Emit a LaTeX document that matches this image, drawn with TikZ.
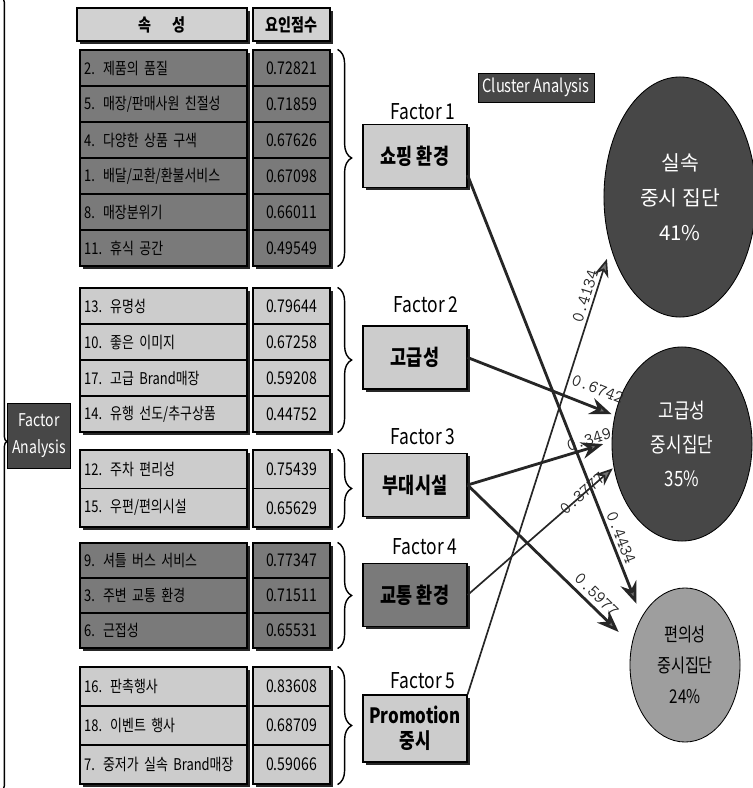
\documentclass[tikz,border=0pt]{standalone}
\usepackage{fontspec}
\newfontfamily\kr{Noto Sans CJK KR}
\newfontfamily\krn[FakeStretch=0.8]{Noto Sans CJK KR}
\usepackage{tikz}
\usetikzlibrary{shapes.geometric}
\usetikzlibrary{arrows.meta}
\usetikzlibrary{shadows}
\usetikzlibrary{decorations.pathreplacing}
\tikzset{shd/.style={drop shadow={shadow xshift=2pt,shadow yshift=-2pt,fill=black!85,opacity=1}}}
\tikzset{dk/.style={fill=black!52}}
\tikzset{lt/.style={fill=black!20}}
\tikzset{hcell/.style={draw,line width=0.8pt,fill=black!18,minimum height=0.825cm,font=\krn\bfseries\fontsize{12.5}{13}\selectfont,shd}}
\tikzset{acell/.style={draw,line width=0.8pt,text width=3.965cm,inner xsep=0.105cm,minimum height=0.9cm,align=left,font=\krn\fontsize{11.5}{12}\selectfont,shd}}
\tikzset{scell/.style={draw,line width=0.8pt,minimum width=1.925cm,minimum height=0.9cm,font=\krn\fontsize{12.5}{13}\selectfont,shd}}
\tikzset{fbox/.style={draw,line width=0.8pt,minimum width=2.6cm,minimum height=1.575cm,align=center,font=\krn\bfseries\fontsize{15.5}{17}\selectfont,shd}}
\tikzset{flabel/.style={font=\krn\fontsize{15.5}{17}\selectfont}}
\tikzset{anbox/.style={draw,fill=black!72,text=white,align=center,font=\krn\fontsize{12.5}{19}\selectfont}}
\tikzset{clus/.style={ellipse,draw,line width=0.6pt,inner sep=0pt,align=center}}
\tikzset{grpbrace/.style={decorate,decoration={brace,amplitude=0.35cm},line width=1pt}}
\tikzset{numlab/.style={font=\ttfamily\fontsize{12.5}{13}\selectfont,sloped,inner sep=0pt}}
\tikzset{thickarrow/.style={line width=2pt,black!85,-{Stealth[length=5.5mm,width=4.2mm,fill=black!55]}}}
\tikzset{thinarrow/.style={line width=1.2pt,black!85,-{Stealth[length=4.5mm,width=3.6mm,fill=black!55]}}}

\begin{document}
\begin{tikzpicture}[x=0.025cm,y=-0.025cm]
\useasboundingbox (0,0) rectangle (752,788);

% table head
\node[hcell,minimum width=4.25cm] (h1) at (162,24.5) {속\hspace{1.2em}성};
\node[hcell,minimum width=1.925cm] (h2) at (291.5,24.5) {요인점수};

% factor 1 rows
\node[acell,dk] (a2) at (163.5,68) {2. 제품의 품질};
\node[scell,dk] (s2) at (291.5,68) {0.72821};
\node[acell,dk] (a5) at (163.5,104) {5. 매장/판매사원 친절성};
\node[scell,dk] (s5) at (291.5,104) {0.71859};
\node[acell,dk] (a4) at (163.5,140) {4. 다양한 상품 구색};
\node[scell,dk] (s4) at (291.5,140) {0.67626};
\node[acell,dk] (a1) at (163.5,176) {1. 배달/교환/환불서비스};
\node[scell,dk] (s1) at (291.5,176) {0.67098};
\node[acell,dk] (a8) at (163.5,212) {8. 매장분위기};
\node[scell,dk] (s8) at (291.5,212) {0.66011};
\node[acell,dk] (a11) at (163.5,248) {11. 휴식 공간};
\node[scell,dk] (s11) at (291.5,248) {0.49549};

% factor 2 rows
\node[acell,lt] (a13) at (163.5,306) {13. 유명성};
\node[scell,lt] (s13) at (291.5,306) {0.79644};
\node[acell,lt] (a10) at (163.5,342) {10. 좋은 이미지};
\node[scell,lt] (s10) at (291.5,342) {0.67258};
\node[acell,lt] (a17) at (163.5,378) {17. 고급 Brand매장};
\node[scell,lt] (s17) at (291.5,378) {0.59208};
\node[acell,lt] (a14) at (163.5,414) {14. 유행 선도/추구상품};
\node[scell,lt] (s14) at (291.5,414) {0.44752};

% factor 3 rows
\node[acell,lt,minimum height=0.9625cm] (a12) at (163.5,469.25) {12. 주차 편리성};
\node[scell,lt,minimum height=0.9625cm] (s12) at (291.5,469.25) {0.75439};
\node[acell,lt,minimum height=0.9625cm] (a15) at (163.5,507.75) {15. 우편/편의시설};
\node[scell,lt,minimum height=0.9625cm] (s15) at (291.5,507.75) {0.65629};

% factor 4 rows
\node[acell,dk,minimum height=0.875cm] (a9) at (163.5,560.5) {9. 셔틀 버스 서비스};
\node[scell,dk,minimum height=0.875cm] (s9) at (291.5,560.5) {0.77347};
\node[acell,dk,minimum height=0.875cm] (a3) at (163.5,595.5) {3. 주변 교통 환경};
\node[scell,dk,minimum height=0.875cm] (s3) at (291.5,595.5) {0.71511};
\node[acell,dk,minimum height=0.875cm] (a6) at (163.5,630.5) {6. 근접성};
\node[scell,dk,minimum height=0.875cm] (s6) at (291.5,630.5) {0.65531};

% factor 5 rows
\node[acell,lt,minimum height=0.975cm] (a16) at (163.5,686.5) {16. 판촉행사};
\node[scell,lt,minimum height=0.975cm] (s16) at (291.5,686.5) {0.83608};
\node[acell,lt,minimum height=0.975cm] (a18) at (163.5,725.5) {18. 이벤트 행사};
\node[scell,lt,minimum height=0.975cm] (s18) at (291.5,725.5) {0.68709};
\node[acell,lt,minimum height=0.975cm] (a7) at (163.5,764.5) {7. 중저가 실속 Brand매장};
\node[scell,lt,minimum height=0.975cm] (s7) at (291.5,764.5) {0.59066};

\draw[grpbrace] ([xshift=5pt]s2.north east) -- ([xshift=5pt]s11.south east);
\draw[grpbrace] ([xshift=5pt]s13.north east) -- ([xshift=5pt]s14.south east);
\draw[grpbrace] ([xshift=5pt]s12.north east) -- ([xshift=5pt]s15.south east);
\draw[grpbrace] ([xshift=5pt]s9.north east) -- ([xshift=5pt]s6.south east);
\draw[grpbrace] ([xshift=5pt]s16.north east) -- ([xshift=5pt]s7.south east);

% factors
\node[flabel] (fl1) at (423,112) {Factor 1};
\node[fbox,lt] (f1) at (415,156) {쇼핑 환경};
\node[flabel] (fl2) at (426,305) {Factor 2};
\node[fbox,lt] (f2) at (415,357.5) {고급성};
\node[flabel] (fl3) at (423,437) {Factor 3};
\node[fbox,lt] (f3) at (415,485) {부대시설};
\node[flabel] (fl4) at (425,547) {Factor 4};
\node[fbox,dk] (f4) at (415,595) {교통 환경};
\node[flabel] (fl5) at (423,681) {Factor 5};
\node[fbox,lt,minimum height=1.675cm,font=\krn\bfseries\fontsize{15}{18}\selectfont] (f5) at (415,728.5) {Promotion\\중시};

% analysis labels
\node[anbox,minimum width=1.5cm,minimum height=1.625cm] (fa) at (39,435.5) {Factor\\Analysis};
\node[anbox,minimum width=2.7cm,minimum height=0.725cm,font=\krn\fontsize{13}{14}\selectfont] (ca) at (536,87.5) {Cluster Analysis};
\draw[line width=1pt,decorate,decoration={brace,amplitude=0.12cm,aspect=0.56}] (2,-2) -- (2,790);

% clusters
\node[clus,fill=black!72,text=white,minimum width=3.8cm,minimum height=6cm,font=\kr\fontsize{14.5}{25}\selectfont] (c1) at (680,197) {실속\\중시 집단\\41\%};
\node[clus,fill=black!72,text=white,minimum width=3.5cm,minimum height=4.85cm,font=\krn\fontsize{15}{24}\selectfont] (c2) at (682,444) {고급성\\중시집단\\35\%};
\node[clus,fill=black!38,minimum width=2.75cm,minimum height=3.85cm,font=\krn\fontsize{13.5}{22}\selectfont] (c3) at (685,665) {편의성\\중시집단\\24\%};

% loadings
\draw[thickarrow,shorten >=0.35cm] (f1.-20) -- node[numlab,pos=0.83,above=2pt] {0.4434} (c3.132);
\draw[thickarrow,shorten >=0.08cm] (f2.east) -- node[numlab,pos=0.84,above=8pt] {0.6742} (c2.157);
\draw[thickarrow,shorten >=0.22cm] (f3.east) -- node[numlab,pos=0.86,above=1pt] {0.349} (c2.178);
\draw[thickarrow,shorten >=0.45cm] (f3.east) -- node[numlab,pos=0.74,above=3pt] {0.5977} (c3.159);
\draw[thinarrow,shorten >=0.03cm] (f4.east) -- node[numlab,pos=0.79,above=-4pt] {0.3777} (c2.199);
\draw[thinarrow,shorten >=0.3cm] (f5.north east) -- node[numlab,pos=0.885,above=2pt] {0.4134} (c1.216);

\end{tikzpicture}
\end{document}
